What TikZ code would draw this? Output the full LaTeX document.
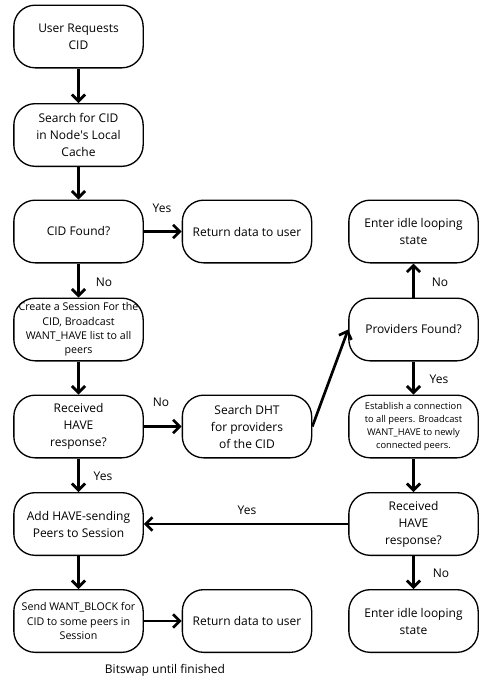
\documentclass[tikz,border=0pt]{standalone}
\usepackage{fontspec}
\setmainfont{Open Sans}
\usetikzlibrary{arrows.meta}

\tikzset{every picture/.style={line width=0.75pt}}
\tikzset{
  flowbox/.style={draw, rounded corners=16pt, line width=1pt, minimum width=97pt, minimum height=47pt, align=center, inner sep=2pt, font=\fontsize{9}{12.75}\selectfont},
  midbox/.style={flowbox, font=\fontsize{8}{10.8}\selectfont},
  smallbox/.style={flowbox, font=\fontsize{7}{9.75}\selectfont},
  flow/.style={line width=2pt, -{Straight Barb[length=5pt,width=10pt]}},
  branch/.style={inner sep=0.75pt, font=\fontsize{9}{11}\selectfont},
}

\begin{document}
\begin{tikzpicture}[x=0.75pt,y=0.75pt,yscale=-1,xscale=1]
\useasboundingbox (0,0) rectangle (488,686);

%Left column
\node [flowbox] (request) at (78.5,36.5) {User Requests\\CID};
\node [flowbox] (cache) at (78.5,135) {Search for CID\\in Node\textquotesingle s Local\\Cache};
\node [flowbox] (found) at (78.5,231.5) {CID Found?};
\node [midbox] (session) at (78.5,329.5) {Create a Session For the\\CID, Broadcast\\WANT\_HAVE list to all\\peers};
\node [flowbox] (have) at (78.5,426.5) {Received\\HAVE\\response?};
\node [flowbox] (addpeers) at (78.5,524) {Add HAVE-sending\\Peers to Session};
\node [midbox] (wantblock) at (78.5,621) {Send WANT\_BLOCK for\\CID to some peers in\\Session};

%Middle column
\node [flowbox] (return) at (247,231.5) {Return data to user};
\node [flowbox] (dht) at (247,426.5) {Search DHT\\for providers\\of the CID};
\node [flowbox] (returnend) at (247,621) {Return data to user};

%Right column
\node [flowbox] (idle) at (413.5,231.5) {Enter idle looping\\state};
\node [flowbox] (providers) at (413.5,329.5) {Providers Found?};
\node [smallbox] (connect) at (413.5,426.5) {Establish a connection\\to all peers. Broadcast\\WANT\_HAVE to newly\\connected peers.};
\node [flowbox] (havenew) at (413.5,524) {Received\\HAVE\\response?};
\node [flowbox] (idleend) at (413.5,621) {Enter idle looping\\state};

%Connectors
\draw [flow] (request) -- (cache);
\draw [flow] (cache) -- (found);
\draw [flow] (found) -- (return);
\draw [flow] (found) -- (session);
\draw [flow] (session) -- (have);
\draw [flow] (have) -- (dht);
\draw [flow] (have) -- (addpeers);
\draw [flow] (addpeers) -- (wantblock);
\draw [flow] (wantblock) -- (returnend);
\draw [flow] (dht.east) -- (providers.west);
\draw [flow] (providers) -- (idle);
\draw [flow] (providers) -- (connect);
\draw [flow] (connect) -- (havenew);
\draw [flow] (havenew) -- (addpeers);
\draw [flow] (havenew) -- (idleend);

%Branch labels
\node [branch] (yesfound) at (162,208) {Yes};
\node [branch] (nofound) at (104,282) {No};
\node [branch] (nohave) at (161,402) {No};
\node [branch] (yeshave) at (103,476) {Yes};
\node [branch] (noprov) at (440,282) {No};
\node [branch] (yesprov) at (439,379) {Yes};
\node [branch] (yesnew) at (247,510) {Yes};
\node [branch] (nonew) at (441,573) {No};

% Text Node
\node [branch] (bitswap) at (165,670) {Bitswap until finished};

\end{tikzpicture}
\end{document}
